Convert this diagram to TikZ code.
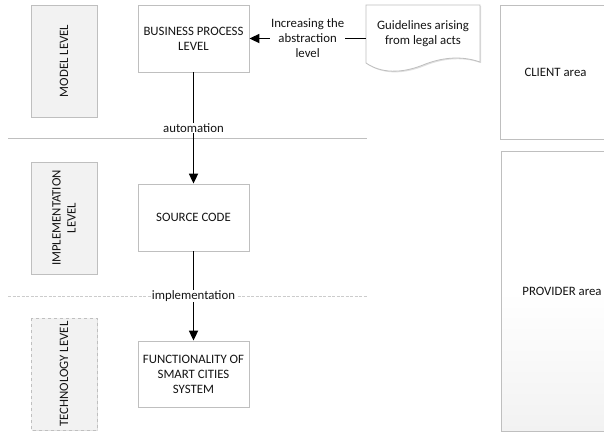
\documentclass[tikz,border=0pt]{standalone}
\usepackage{fontspec}
\setmainfont{Carlito}
\usepackage{tikz}
\usetikzlibrary{arrows.meta,shadows}
\definecolor{boxline}{HTML}{BFBFBF}
\definecolor{lvlfill}{HTML}{F2F2F2}
\definecolor{txt}{HTML}{141414}

\begin{document}
\begin{tikzpicture}[x=1pt,y=-1pt,
  font=\fontsize{12.8}{15}\selectfont, text=txt,
  box/.style={draw=boxline,fill=white,line width=0.8pt,align=center,inner sep=2pt,
    drop shadow={shadow xshift=1.2pt,shadow yshift=-1.2pt,fill=black,opacity=0.12}},
  lvl/.style={box,fill=lvlfill,rotate=90,minimum width=112pt,minimum height=66pt},
  arr/.style={-{Triangle[length=10pt,width=9pt]},line width=1.7pt},
  lbl/.style={fill=white,inner sep=1pt,align=center}]
\clip (0,0) rectangle (604,432);
\fill[white] (0,0) rectangle (604,432);
% separators
\draw[boxline,line width=0.8pt] (8,138) -- (367,138);
\draw[boxline!80,line width=0.8pt,dash pattern=on 3pt off 1.5pt] (8,296) -- (368,296);
% levels
\node[lvl] (model) at (64,61) {MODEL LEVEL};
\node[lvl] (impl) at (64,218) {IMPLEMENTATION\\LEVEL};
\node[lvl,dashed] (tech) at (64,374) {TECHNOLOGY LEVEL};
% process
\node[box,minimum width=111pt,minimum height=67pt] (bp) at (193.5,38.5) {BUSINESS PROCESS\\LEVEL};
\node[box,minimum width=111pt,minimum height=67pt] (src) at (193.5,217.5) {SOURCE CODE};
\node[box,minimum width=111pt,minimum height=66pt] (func) at (193.5,374) {FUNCTIONALITY OF\\SMART CITIES\\SYSTEM};
% document
\draw[boxline,fill=white,line width=0.8pt,drop shadow={shadow xshift=1.2pt,shadow yshift=-1.2pt,fill=black,opacity=0.12}]
  (366,5) -- (480,5) -- (480,62) .. controls (460,55) and (440,58) .. (423,65)
  .. controls (408,71) and (385,76) .. (366,63) -- cycle;
\node[align=center,minimum width=114pt,minimum height=58pt,inner sep=0pt] (doc) at (423,34) {Guidelines arising\\from legal acts};
% areas
\node[box,minimum width=111pt,minimum height=134pt] (client) at (555.5,72) {CLIENT area};
\node[box,top color=white,bottom color=lvlfill,middle color=white,minimum width=122pt,minimum height=280pt] (provider) at (562,291) {PROVIDER area};
% connectors
\draw[arr] (bp.east -| doc.west) -- node[lbl] {Increasing the\\abstraction\\level} (bp.east);
\draw[arr] (bp) -- node[lbl] {automation} (src);
\draw[arr] (src) -- node[lbl] {implementation} (func);
\end{tikzpicture}
\end{document}
